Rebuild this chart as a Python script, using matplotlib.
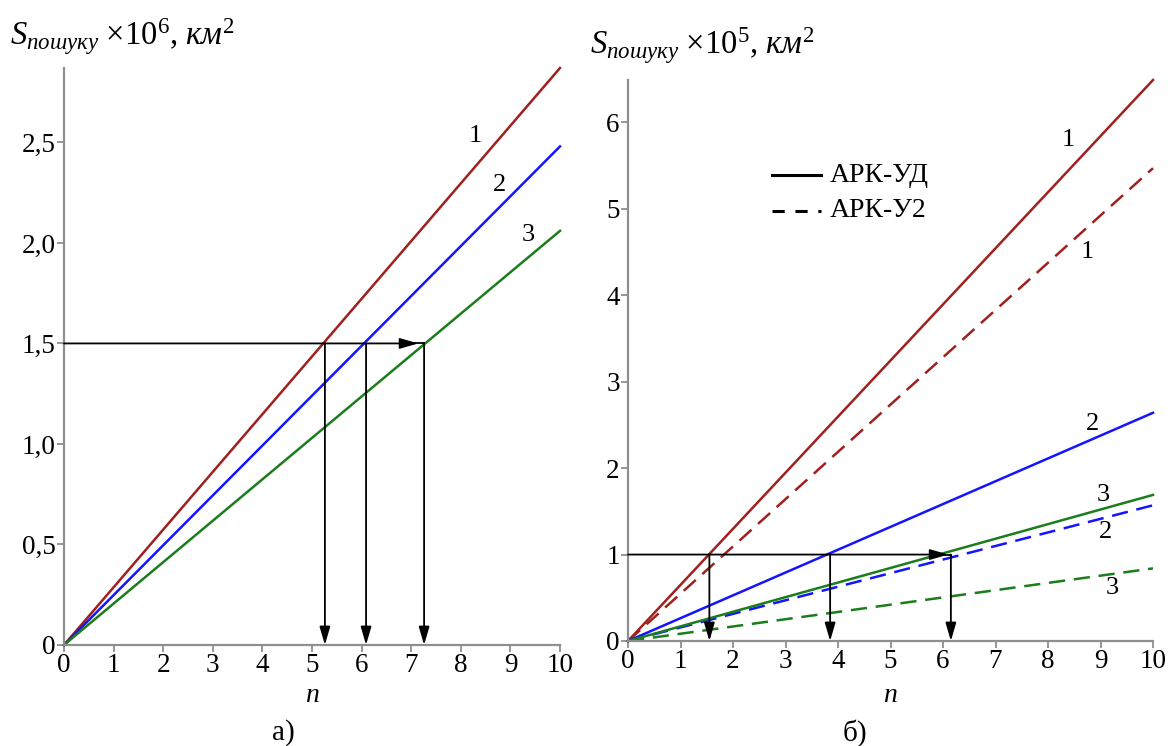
import matplotlib
matplotlib.use("Agg")
import matplotlib.pyplot as plt
import numpy as np

plt.rcParams['font.family'] = ['Liberation Serif', 'DejaVu Serif']
plt.rcParams['mathtext.fontset'] = 'custom'
plt.rcParams['mathtext.rm'] = 'Liberation Serif'
plt.rcParams['mathtext.it'] = 'Liberation Serif:italic'

# ---------- data ----------
n = [0, 10]
# panel a) S x10^6 km^2 at n=0 and n=10
a_curve1 = [0, 2.87]
a_curve2 = [0, 2.48]
a_curve3 = [0, 2.06]
a_level = 1.5
a_cross_n = [5.26, 6.09, 7.26]
a_yticks = [0, 0.5, 1.0, 1.5, 2.0, 2.5]
a_yticklabels = ['0', '0,5', '1,0', '1,5', '2,0', '2,5']

# panel б) S x10^5 km^2
b_ud1 = [0, 6.49]
b_ud2 = [0, 2.64]
b_ud3 = [0, 1.69]
b_u21 = [0, 5.47]
b_u22 = [0, 1.57]
b_u23 = [0, 0.84]
b_level = 1.0
b_cross_n = [1.55, 3.85, 6.15]
b_yticks = [0, 1, 2, 3, 4, 5, 6]

xticks = list(range(0, 11))

RED = '#a0201e'
BLUE = '#1414ff'
GREEN = '#1b7d1b'
AXC = '#8f8f8f'

fig = plt.figure(figsize=(11.73, 7.46), dpi=100)
axA = fig.add_axes([64/1173, 101/746, 496/1173, 577/746])
axB = fig.add_axes([628/1173, 105/746, 525/1173, 561/746])

TFS = 19.5

def style(ax, ymax, yticks, ylabels, nlab_y):
    ax.set_xlim(0, 10)
    ax.set_ylim(0, ymax)
    for s in ['top', 'right']:
        ax.spines[s].set_visible(False)
    for s in ['left', 'bottom']:
        ax.spines[s].set_color(AXC)
        ax.spines[s].set_linewidth(1.6)
    ax.set_xticks(xticks)
    ax.set_xticklabels([str(x) for x in xticks])
    ax.set_yticks(yticks)
    ax.set_yticklabels(ylabels)
    ax.tick_params(axis='both', colors=AXC, labelcolor='black', labelsize=TFS,
                   length=5, width=1.3, direction='out')
    ax.tick_params(axis='x', pad=1)
    ax.tick_params(axis='y', pad=1)
    ax.set_xlabel('$n$', fontsize=20, va='center')
    ax.xaxis.set_label_coords(0.5, nlab_y)
    ax.patch.set_visible(False)

style(axA, 2.87, a_yticks, a_yticklabels, -0.088)
style(axB, 6.49, b_yticks, [str(v) for v in b_yticks], -0.098)

lw = 1.8
axA.plot(n, a_curve1, color=RED, lw=lw, clip_on=False)
axA.plot(n, a_curve2, color=BLUE, lw=lw, clip_on=False)
axA.plot(n, a_curve3, color=GREEN, lw=lw, clip_on=False)

dash = (0, (6.5, 3.5))
axB.plot(n, b_ud1, color=RED, lw=lw, clip_on=False)
axB.plot(n, b_u21, color=RED, lw=lw, ls=dash, clip_on=False)
axB.plot(n, b_ud2, color=BLUE, lw=lw, clip_on=False)
axB.plot(n, b_u22, color=BLUE, lw=lw, ls=dash, clip_on=False)
axB.plot(n, b_ud3, color=GREEN, lw=lw, clip_on=False)
axB.plot(n, b_u23, color=GREEN, lw=lw, ls=dash, clip_on=False)

aprops = dict(arrowstyle='-|>,head_length=1.1,head_width=0.32', color='black',
              lw=1.3, shrinkA=0, shrinkB=0)

def arrows(ax, level, xs, htip):
    ax.annotate('', xy=(htip, level), xytext=(0, level), arrowprops=aprops)
    ax.plot([xs[-1] - 0.3, xs[-1]], [level, level], color='black', lw=1.3)
    for x in xs:
        ax.annotate('', xy=(x, 0), xytext=(x, level), arrowprops=aprops)

arrows(axA, a_level, a_cross_n, 7.14)
arrows(axB, b_level, b_cross_n, 6.1)

# curve labels
fs = 19
axA.text(8.29, 2.53, '1', fontsize=fs, ha='center', va='center')
axA.text(8.79, 2.29, '2', fontsize=fs, ha='center', va='center')
axA.text(9.35, 2.04, '3', fontsize=fs, ha='center', va='center')

axB.text(8.38, 5.80, '1', fontsize=fs, ha='center', va='center')
axB.text(8.74, 4.50, '1', fontsize=fs, ha='center', va='center')
axB.text(8.84, 2.51, '2', fontsize=fs, ha='center', va='center')
axB.text(9.05, 1.69, '3', fontsize=fs, ha='center', va='center')
axB.text(9.09, 1.26, '2', fontsize=fs, ha='center', va='center')
axB.text(9.22, 0.61, '3', fontsize=fs, ha='center', va='center')

# legend
axB.plot([2.75, 3.67], [5.39, 5.39], color='black', lw=2.2)
axB.plot([2.75, 3.67], [4.98, 4.98], color='black', lw=2.2, ls=(0, (4, 3.5)))
axB.text(3.85, 5.39, 'АРК-УД', fontsize=20, va='center', ha='left')
axB.text(3.85, 4.98, 'АРК-У2', fontsize=20, va='center', ha='left')

# y labels
fig.text(10/1173, 1 - 45/746, r'$S_{пошуку}\ \mathrm{\times 10}^{6}\mathrm{,}\ км^{2}$',
         fontsize=23.5, ha='left', va='baseline')
fig.text(590/1173, 1 - 54/746, r'$S_{пошуку}\ \mathrm{\times 10}^{5}\mathrm{,}\ км^{2}$',
         fontsize=23.5, ha='left', va='baseline')

fig.text(283/1173, 1 - 733/746, 'а)', fontsize=21, ha='center', va='center')
fig.text(855/1173, 1 - 733/746, 'б)', fontsize=21, ha='center', va='center')

fig.savefig('out.png', dpi=100)
